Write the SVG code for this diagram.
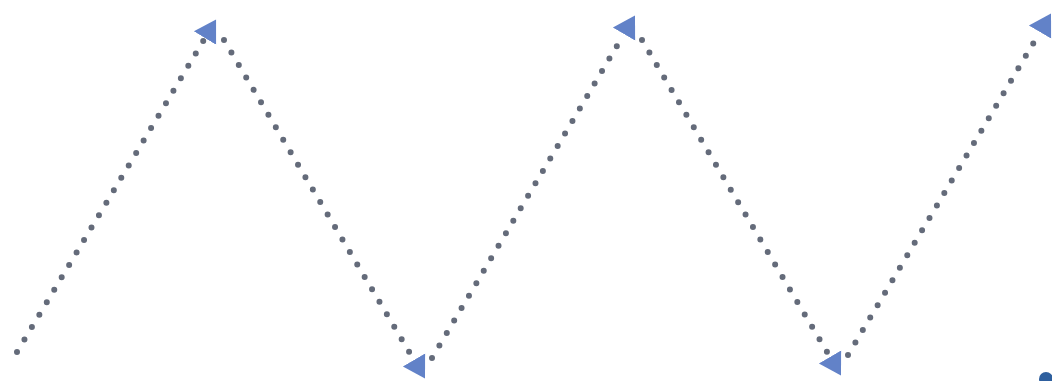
<svg xmlns="http://www.w3.org/2000/svg" width="1052" height="381" viewBox="0 0 1052 381">
  <style>
    .conn { fill: none; stroke: #646b7a; stroke-width: 6; stroke-linecap: round; stroke-dasharray: 0 14.5; }
  </style>
  <defs>
    <marker id="arrow" markerUnits="userSpaceOnUse" markerWidth="24" markerHeight="28" viewBox="0 -13 22 26" refX="0" refY="0" orient="auto">
      <path d="M0,-12 L20,0 L0,12 Z" fill="#6282c8"/>
    </marker>
  </defs>
  <rect width="1052" height="381" fill="#ffffff"/>
  <g id="connectors">
    <line class="conn" x1="17" y1="352" x2="205" y2="38" marker-end="url(#arrow)"/>
    <line class="conn" x1="224" y1="40" x2="414" y2="360" marker-end="url(#arrow)"/>
    <line class="conn" x1="432" y1="358" x2="624" y2="34" marker-end="url(#arrow)"/>
    <line class="conn" x1="642" y1="40" x2="830" y2="357" marker-end="url(#arrow)"/>
    <line class="conn" x1="848" y1="355" x2="1040" y2="32" marker-end="url(#arrow)"/>
  </g>
  <g id="dot">
    <circle cx="1046" cy="379" r="7" fill="#2e5f9e"/>
  </g>
</svg>
